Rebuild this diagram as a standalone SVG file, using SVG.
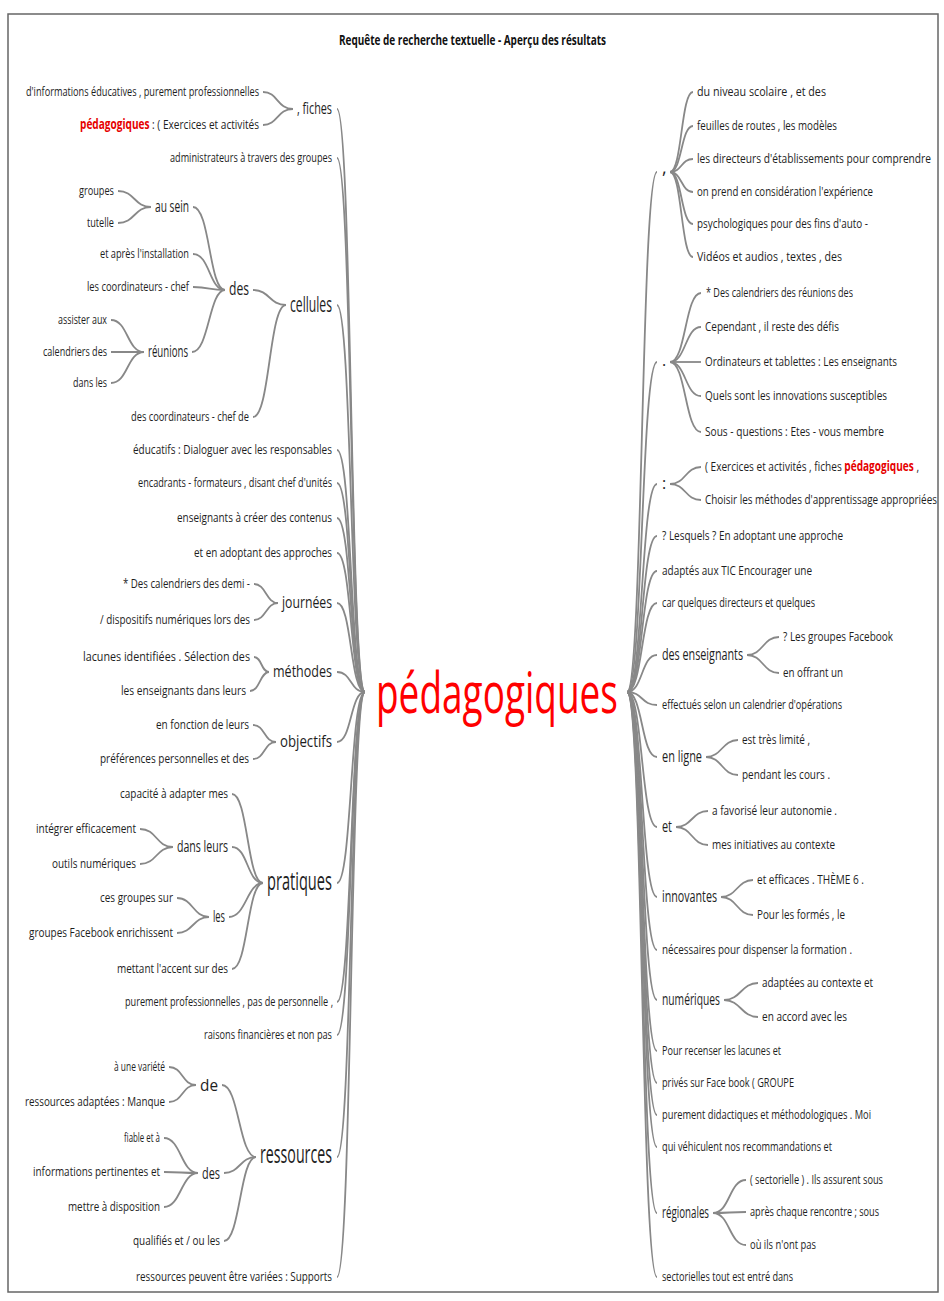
<svg xmlns="http://www.w3.org/2000/svg" width="944" height="1301" viewBox="0 0 944 1301">
<style>
.t{font-family:"Open Sans","Liberation Sans",sans-serif;font-size:13.5px;fill:#1e1e1e}
.m{font-size:16px}
.b{font-size:21px}
.l{font-size:25px}
.r{fill:#e60000;font-weight:bold}
.c{fill:none;stroke:#888;stroke-width:1.8}
.h{font-family:"Open Sans","Liberation Sans",sans-serif;font-size:13.5px;font-weight:bold;fill:#111}
</style>
<rect x="8" y="14" width="930" height="1278" fill="#fff" stroke="#666" stroke-width="1.5"/>
<text class="h" x="339" y="45" textLength="267" lengthAdjust="spacingAndGlyphs">Requête de recherche textuelle - Aperçu des résultats</text>

<g id="connectors">
<path class="c" d="M337,109 C352,109 350,692 365,692"/>
<path class="c" d="M337,158 C352,158 350,692 365,692"/>
<path class="c" d="M337,305 C352,305 350,692 365,692"/>
<path class="c" d="M337,450 C352,450 350,692 365,692"/>
<path class="c" d="M337,483 C352,483 350,692 365,692"/>
<path class="c" d="M337,518 C352,518 350,692 365,692"/>
<path class="c" d="M337,553 C352,553 350,692 365,692"/>
<path class="c" d="M337,603 C352,603 350,692 365,692"/>
<path class="c" d="M337,672 C352,672 350,692 365,692"/>
<path class="c" d="M337,742 C352,742 350,692 365,692"/>
<path class="c" d="M337,883 C352,883 350,692 365,692"/>
<path class="c" d="M337,1002 C352,1002 350,692 365,692"/>
<path class="c" d="M337,1035 C352,1035 350,692 365,692"/>
<path class="c" d="M337,1157 C352,1157 350,692 365,692"/>
<path class="c" d="M337,1277 C352,1277 350,692 365,692"/>
<path class="c" d="M263,92 C278,92 277,109 293,109"/>
<path class="c" d="M263,125 C278,125 277,109 293,109"/>
<path class="c" d="M118,191 C135,191 134,207 151,207"/>
<path class="c" d="M118,223 C135,223 134,207 151,207"/>
<path class="c" d="M193,207 C210,207 209,290 225,290"/>
<path class="c" d="M193,254 C210,254 209,290 225,290"/>
<path class="c" d="M193,287 C210,287 209,290 225,290"/>
<path class="c" d="M192,352 C209,352 209,290 225,290"/>
<path class="c" d="M111,320 C128,320 127,352 144,352"/>
<path class="c" d="M111,352 C128,352 127,352 144,352"/>
<path class="c" d="M111,383 C128,383 127,352 144,352"/>
<path class="c" d="M253,290 C270,290 269,305 286,305"/>
<path class="c" d="M253,417 C270,417 269,305 286,305"/>
<path class="c" d="M254,584 C266,584 266,603 278,603"/>
<path class="c" d="M254,620 C266,620 266,603 278,603"/>
<path class="c" d="M254,657 C262,657 261,672 269,672"/>
<path class="c" d="M250,691 C260,691 260,672 269,672"/>
<path class="c" d="M253,725 C265,725 264,742 276,742"/>
<path class="c" d="M253,759 C265,759 264,742 276,742"/>
<path class="c" d="M140,829 C157,829 156,847 173,847"/>
<path class="c" d="M140,864 C157,864 156,847 173,847"/>
<path class="c" d="M177,898 C193,898 193,917 209,917"/>
<path class="c" d="M177,933 C193,933 193,917 209,917"/>
<path class="c" d="M232,794 C248,794 247,883 263,883"/>
<path class="c" d="M232,847 C248,847 247,883 263,883"/>
<path class="c" d="M229,917 C246,917 247,883 263,883"/>
<path class="c" d="M232,969 C248,969 247,883 263,883"/>
<path class="c" d="M169,1067 C183,1067 182,1085 196,1085"/>
<path class="c" d="M169,1102 C183,1102 182,1085 196,1085"/>
<path class="c" d="M164,1138 C181,1138 181,1173 198,1173"/>
<path class="c" d="M164,1172 C181,1172 181,1173 198,1173"/>
<path class="c" d="M164,1207 C181,1207 181,1173 198,1173"/>
<path class="c" d="M222,1085 C239,1085 239,1157 256,1157"/>
<path class="c" d="M224,1173 C240,1173 240,1157 256,1157"/>
<path class="c" d="M224,1241 C240,1241 240,1157 256,1157"/>

<path class="c" d="M627,692 C643,692 641,172 657,172"/>
<path class="c" d="M627,692 C643,692 641,362 657,362"/>
<path class="c" d="M627,692 C643,692 641,484 657,484"/>
<path class="c" d="M627,692 C643,692 641,536 657,536"/>
<path class="c" d="M627,692 C643,692 641,571 657,571"/>
<path class="c" d="M627,692 C643,692 641,603 657,603"/>
<path class="c" d="M627,692 C643,692 641,655 657,655"/>
<path class="c" d="M627,692 C643,692 641,705 657,705"/>
<path class="c" d="M627,692 C643,692 641,757 657,757"/>
<path class="c" d="M627,692 C643,692 641,827 657,827"/>
<path class="c" d="M627,692 C643,692 641,897 657,897"/>
<path class="c" d="M627,692 C643,692 641,950 657,950"/>
<path class="c" d="M627,692 C643,692 641,1000 657,1000"/>
<path class="c" d="M627,692 C643,692 641,1051 657,1051"/>
<path class="c" d="M627,692 C643,692 641,1083 657,1083"/>
<path class="c" d="M627,692 C643,692 641,1115 657,1115"/>
<path class="c" d="M627,692 C643,692 641,1147 657,1147"/>
<path class="c" d="M627,692 C643,692 641,1213 657,1213"/>
<path class="c" d="M627,692 C643,692 641,1277 657,1277"/>
<path class="c" d="M670,172 C682,172 681,92 693,92"/>
<path class="c" d="M670,172 C682,172 681,126 693,126"/>
<path class="c" d="M670,172 C682,172 681,159 693,159"/>
<path class="c" d="M670,172 C682,172 681,192 693,192"/>
<path class="c" d="M670,172 C682,172 681,224 693,224"/>
<path class="c" d="M670,172 C682,172 681,257 693,257"/>
<path class="c" d="M670,362 C686,362 685,293 701,293"/>
<path class="c" d="M670,362 C686,362 685,327 701,327"/>
<path class="c" d="M670,362 C686,362 685,362 701,362"/>
<path class="c" d="M670,362 C686,362 685,396 701,396"/>
<path class="c" d="M670,362 C686,362 685,432 701,432"/>
<path class="c" d="M670,484 C686,484 685,467 701,467"/>
<path class="c" d="M670,484 C686,484 685,500 701,500"/>
<path class="c" d="M747,655 C763,655 763,637 779,637"/>
<path class="c" d="M747,655 C763,655 763,673 779,673"/>
<path class="c" d="M706,757 C722,757 722,740 738,740"/>
<path class="c" d="M706,757 C722,757 722,775 738,775"/>
<path class="c" d="M676,827 C692,827 692,811 708,811"/>
<path class="c" d="M676,827 C692,827 692,845 708,845"/>
<path class="c" d="M721,897 C737,897 737,880 753,880"/>
<path class="c" d="M721,897 C737,897 737,915 753,915"/>
<path class="c" d="M724,1000 C741,1000 741,983 758,983"/>
<path class="c" d="M724,1000 C741,1000 741,1017 758,1017"/>
<path class="c" d="M713,1213 C730,1213 729,1180 746,1180"/>
<path class="c" d="M713,1213 C730,1213 729,1212 746,1212"/>
<path class="c" d="M713,1213 C730,1213 729,1245 746,1245"/>
</g>

<g id="center"><text class="t" x="376" y="713" style="font-size:56px;fill:#ff0000" textLength="242" lengthAdjust="spacingAndGlyphs">pédagogiques</text></g>

<g id="left">
<g id="n-fiches"><text class="t m" x="297" y="114" textLength="35" lengthAdjust="spacingAndGlyphs">, fiches</text></g>
<g id="l1"><text class="t" x="26" y="96" textLength="233" lengthAdjust="spacingAndGlyphs">d'informations éducatives , purement professionnelles</text></g>
<g id="l2"><text class="t" x="80" y="129" textLength="179" lengthAdjust="spacingAndGlyphs"><tspan class="r">pédagogiques</tspan> : ( Exercices et activités</text></g>
<g id="l3"><text class="t" x="170" y="162" textLength="162" lengthAdjust="spacingAndGlyphs">administrateurs à travers des groupes</text></g>
<g id="n-cellules"><text class="t b" x="290" y="312" textLength="42" lengthAdjust="spacingAndGlyphs">cellules</text></g>
<g id="n-des1"><text class="t" x="229" y="295" style="font-size:19px" textLength="20" lengthAdjust="spacingAndGlyphs">des</text></g>
<g id="n-ausein"><text class="t m" x="155" y="212" textLength="34" lengthAdjust="spacingAndGlyphs">au sein</text></g>
<g id="l4"><text class="t" x="79" y="195" textLength="35" lengthAdjust="spacingAndGlyphs">groupes</text></g>
<g id="l5"><text class="t" x="87" y="227" textLength="27" lengthAdjust="spacingAndGlyphs">tutelle</text></g>
<g id="l6"><text class="t" x="100" y="258" textLength="89" lengthAdjust="spacingAndGlyphs">et après l'installation</text></g>
<g id="l7"><text class="t" x="87" y="291" textLength="102" lengthAdjust="spacingAndGlyphs">les coordinateurs - chef</text></g>
<g id="n-reunions"><text class="t m" x="148" y="357" textLength="40" lengthAdjust="spacingAndGlyphs">réunions</text></g>
<g id="l8"><text class="t" x="58" y="324" textLength="49" lengthAdjust="spacingAndGlyphs">assister aux</text></g>
<g id="l9"><text class="t" x="43" y="356" textLength="64" lengthAdjust="spacingAndGlyphs">calendriers des</text></g>
<g id="l10"><text class="t" x="73" y="387" textLength="34" lengthAdjust="spacingAndGlyphs">dans les</text></g>
<g id="l11"><text class="t" x="131" y="421" textLength="118" lengthAdjust="spacingAndGlyphs">des coordinateurs - chef de</text></g>
<g id="l12"><text class="t" x="133" y="454" textLength="199" lengthAdjust="spacingAndGlyphs">éducatifs : Dialoguer avec les responsables</text></g>
<g id="l13"><text class="t" x="138" y="487" textLength="194" lengthAdjust="spacingAndGlyphs">encadrants - formateurs , disant chef d'unités</text></g>
<g id="l14"><text class="t" x="177" y="522" textLength="155" lengthAdjust="spacingAndGlyphs">enseignants à créer des contenus</text></g>
<g id="l15"><text class="t" x="194" y="557" textLength="138" lengthAdjust="spacingAndGlyphs">et en adoptant des approches</text></g>
<g id="n-journees"><text class="t m" x="282" y="608" textLength="50" lengthAdjust="spacingAndGlyphs">journées</text></g>
<g id="l16"><text class="t" x="123" y="588" textLength="127" lengthAdjust="spacingAndGlyphs">* Des calendriers des demi -</text></g>
<g id="l17"><text class="t" x="100" y="624" textLength="150" lengthAdjust="spacingAndGlyphs">/ dispositifs numériques lors des</text></g>
<g id="n-methodes"><text class="t m" x="273" y="677" textLength="59" lengthAdjust="spacingAndGlyphs">méthodes</text></g>
<g id="l18"><text class="t" x="83" y="661" textLength="167" lengthAdjust="spacingAndGlyphs">lacunes identifiées . Sélection des</text></g>
<g id="l19"><text class="t" x="121" y="695" textLength="125" lengthAdjust="spacingAndGlyphs">les enseignants dans leurs</text></g>
<g id="n-objectifs"><text class="t m" x="280" y="747" textLength="52" lengthAdjust="spacingAndGlyphs">objectifs</text></g>
<g id="l20"><text class="t" x="156" y="729" textLength="93" lengthAdjust="spacingAndGlyphs">en fonction de leurs</text></g>
<g id="l21"><text class="t" x="100" y="763" textLength="149" lengthAdjust="spacingAndGlyphs">préférences personnelles et des</text></g>
<g id="n-pratiques"><text class="t l" x="267" y="890" textLength="65" lengthAdjust="spacingAndGlyphs">pratiques</text></g>
<g id="l22"><text class="t" x="120" y="798" textLength="108" lengthAdjust="spacingAndGlyphs">capacité à adapter mes</text></g>
<g id="n-dansleurs"><text class="t m" x="177" y="852" textLength="51" lengthAdjust="spacingAndGlyphs">dans leurs</text></g>
<g id="l23"><text class="t" x="36" y="833" textLength="100" lengthAdjust="spacingAndGlyphs">intégrer efficacement</text></g>
<g id="l24"><text class="t" x="52" y="868" textLength="84" lengthAdjust="spacingAndGlyphs">outils numériques</text></g>
<g id="n-les"><text class="t m" x="213" y="922" textLength="12" lengthAdjust="spacingAndGlyphs">les</text></g>
<g id="l25"><text class="t" x="100" y="902" textLength="73" lengthAdjust="spacingAndGlyphs">ces groupes sur</text></g>
<g id="l26"><text class="t" x="29" y="937" textLength="144" lengthAdjust="spacingAndGlyphs">groupes Facebook enrichissent</text></g>
<g id="l27"><text class="t" x="117" y="973" textLength="111" lengthAdjust="spacingAndGlyphs">mettant l'accent sur des</text></g>
<g id="l28"><text class="t" x="125" y="1006" textLength="208" lengthAdjust="spacingAndGlyphs">purement professionnelles , pas de personnelle ,</text></g>
<g id="l29"><text class="t" x="204" y="1039" textLength="128" lengthAdjust="spacingAndGlyphs">raisons financières et non pas</text></g>
<g id="n-ressources"><text class="t l" x="260" y="1163" textLength="72" lengthAdjust="spacingAndGlyphs">ressources</text></g>
<g id="n-de"><text class="t" x="200" y="1091" style="font-size:17px" textLength="18" lengthAdjust="spacingAndGlyphs">de</text></g>
<g id="l30"><text class="t" x="114" y="1071" textLength="51" lengthAdjust="spacingAndGlyphs">à une variété</text></g>
<g id="l31"><text class="t" x="25" y="1106" textLength="140" lengthAdjust="spacingAndGlyphs">ressources adaptées : Manque</text></g>
<g id="n-des2"><text class="t" x="202" y="1179" style="font-size:17px" textLength="18" lengthAdjust="spacingAndGlyphs">des</text></g>
<g id="l32"><text class="t" x="124" y="1142" textLength="36" lengthAdjust="spacingAndGlyphs">fiable et à</text></g>
<g id="l33"><text class="t" x="33" y="1176" textLength="127" lengthAdjust="spacingAndGlyphs">informations pertinentes et</text></g>
<g id="l34"><text class="t" x="68" y="1211" textLength="92" lengthAdjust="spacingAndGlyphs">mettre à disposition</text></g>
<g id="l35"><text class="t" x="133" y="1245" textLength="87" lengthAdjust="spacingAndGlyphs">qualifiés et / ou les</text></g>
<g id="l36"><text class="t" x="136" y="1281" textLength="196" lengthAdjust="spacingAndGlyphs">ressources peuvent être variées : Supports</text></g>
</g>

<g id="right">
<g id="n-comma"><text class="t m" x="662" y="174" style="font-size:18px">,</text></g>
<g id="r1"><text class="t" x="697" y="96" textLength="129" lengthAdjust="spacingAndGlyphs">du niveau scolaire , et des</text></g>
<g id="r2"><text class="t" x="697" y="130" textLength="140" lengthAdjust="spacingAndGlyphs">feuilles de routes , les modèles</text></g>
<g id="r3"><text class="t" x="697" y="163" textLength="234" lengthAdjust="spacingAndGlyphs">les directeurs d'établissements pour comprendre</text></g>
<g id="r4"><text class="t" x="697" y="196" textLength="176" lengthAdjust="spacingAndGlyphs">on prend en considération l'expérience</text></g>
<g id="r5"><text class="t" x="697" y="228" textLength="171" lengthAdjust="spacingAndGlyphs">psychologiques pour des fins d'auto -</text></g>
<g id="r6"><text class="t" x="697" y="261" textLength="145" lengthAdjust="spacingAndGlyphs">Vidéos et audios , textes , des</text></g>
<g id="n-period"><text class="t m" x="662" y="366">.</text></g>
<g id="r7"><text class="t" x="706" y="297" textLength="147" lengthAdjust="spacingAndGlyphs">* Des calendriers des réunions des</text></g>
<g id="r8"><text class="t" x="705" y="331" textLength="134" lengthAdjust="spacingAndGlyphs">Cependant , il reste des défis</text></g>
<g id="r9"><text class="t" x="705" y="366" textLength="192" lengthAdjust="spacingAndGlyphs">Ordinateurs et tablettes : Les enseignants</text></g>
<g id="r10"><text class="t" x="705" y="400" textLength="182" lengthAdjust="spacingAndGlyphs">Quels sont les innovations susceptibles</text></g>
<g id="r11"><text class="t" x="705" y="436" textLength="179" lengthAdjust="spacingAndGlyphs">Sous - questions : Etes - vous membre</text></g>
<g id="n-colon"><text class="t m" x="662" y="489">:</text></g>
<g id="r12"><text class="t" x="705" y="471" textLength="214" lengthAdjust="spacingAndGlyphs">( Exercices et activités , fiches <tspan class="r">pédagogiques</tspan> ,</text></g>
<g id="r13"><text class="t" x="705" y="504" textLength="232" lengthAdjust="spacingAndGlyphs">Choisir les méthodes d'apprentissage appropriées</text></g>
<g id="r14"><text class="t" x="662" y="540" textLength="181" lengthAdjust="spacingAndGlyphs">? Lesquels ? En adoptant une approche</text></g>
<g id="r15"><text class="t" x="662" y="575" textLength="150" lengthAdjust="spacingAndGlyphs">adaptés aux TIC Encourager une</text></g>
<g id="r16"><text class="t" x="662" y="607" textLength="153" lengthAdjust="spacingAndGlyphs">car quelques directeurs et quelques</text></g>
<g id="n-desens"><text class="t m" x="662" y="660" textLength="81" lengthAdjust="spacingAndGlyphs">des enseignants</text></g>
<g id="r17"><text class="t" x="783" y="641" textLength="110" lengthAdjust="spacingAndGlyphs">? Les groupes Facebook</text></g>
<g id="r18"><text class="t" x="783" y="677" textLength="60" lengthAdjust="spacingAndGlyphs">en offrant un</text></g>
<g id="r19"><text class="t" x="662" y="709" textLength="180" lengthAdjust="spacingAndGlyphs">effectués selon un calendrier d'opérations</text></g>
<g id="n-enligne"><text class="t m" x="662" y="762" textLength="40" lengthAdjust="spacingAndGlyphs">en ligne</text></g>
<g id="r20"><text class="t" x="742" y="744" textLength="68" lengthAdjust="spacingAndGlyphs">est très limité ,</text></g>
<g id="r21"><text class="t" x="742" y="779" textLength="88" lengthAdjust="spacingAndGlyphs">pendant les cours .</text></g>
<g id="n-et"><text class="t m" x="662" y="832" textLength="10" lengthAdjust="spacingAndGlyphs">et</text></g>
<g id="r22"><text class="t" x="712" y="815" textLength="125" lengthAdjust="spacingAndGlyphs">a favorisé leur autonomie .</text></g>
<g id="r23"><text class="t" x="712" y="849" textLength="123" lengthAdjust="spacingAndGlyphs">mes initiatives au contexte</text></g>
<g id="n-innovantes"><text class="t m" x="662" y="902" textLength="55" lengthAdjust="spacingAndGlyphs">innovantes</text></g>
<g id="r24"><text class="t" x="757" y="884" textLength="107" lengthAdjust="spacingAndGlyphs">et efficaces . THÈME 6 .</text></g>
<g id="r25"><text class="t" x="757" y="919" textLength="88" lengthAdjust="spacingAndGlyphs">Pour les formés , le</text></g>
<g id="r26"><text class="t" x="662" y="954" textLength="190" lengthAdjust="spacingAndGlyphs">nécessaires pour dispenser la formation .</text></g>
<g id="n-numeriques"><text class="t m" x="662" y="1005" textLength="58" lengthAdjust="spacingAndGlyphs">numériques</text></g>
<g id="r27"><text class="t" x="762" y="987" textLength="111" lengthAdjust="spacingAndGlyphs">adaptées au contexte et</text></g>
<g id="r28"><text class="t" x="762" y="1021" textLength="85" lengthAdjust="spacingAndGlyphs">en accord avec les</text></g>
<g id="r29"><text class="t" x="662" y="1055" textLength="119" lengthAdjust="spacingAndGlyphs">Pour recenser les lacunes et</text></g>
<g id="r30"><text class="t" x="662" y="1087" textLength="132" lengthAdjust="spacingAndGlyphs">privés sur Face book ( GROUPE</text></g>
<g id="r31"><text class="t" x="662" y="1119" textLength="209" lengthAdjust="spacingAndGlyphs">purement didactiques et méthodologiques . Moi</text></g>
<g id="r32"><text class="t" x="662" y="1151" textLength="170" lengthAdjust="spacingAndGlyphs">qui véhiculent nos recommandations et</text></g>
<g id="n-regionales"><text class="t m" x="662" y="1218" textLength="47" lengthAdjust="spacingAndGlyphs">régionales</text></g>
<g id="r33"><text class="t" x="750" y="1184" textLength="133" lengthAdjust="spacingAndGlyphs">( sectorielle ) . Ils assurent sous</text></g>
<g id="r34"><text class="t" x="750" y="1216" textLength="129" lengthAdjust="spacingAndGlyphs">après chaque rencontre ; sous</text></g>
<g id="r35"><text class="t" x="750" y="1249" textLength="66" lengthAdjust="spacingAndGlyphs">où ils n'ont pas</text></g>
<g id="r36"><text class="t" x="662" y="1281" textLength="131" lengthAdjust="spacingAndGlyphs">sectorielles tout est entré dans</text></g>
</g>
</svg>
